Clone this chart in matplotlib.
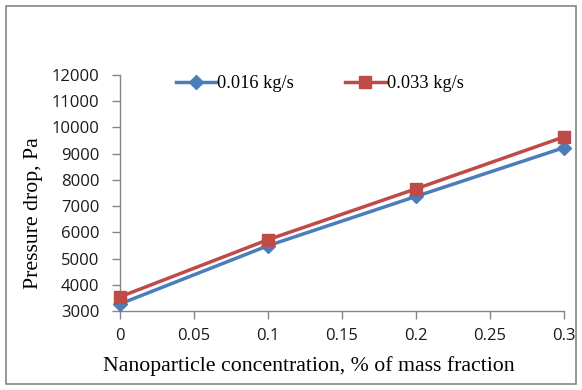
import matplotlib
matplotlib.use('Agg')
import matplotlib.pyplot as plt
from matplotlib.patches import Rectangle

# data
conc = [0, 0.1, 0.2, 0.3]
dp_016 = [3270, 5490, 7370, 9230]
dp_033 = [3540, 5720, 7660, 9640]

blue = '#4a7ebb'
red = '#be4b48'
grey = '#868686'

fig = plt.figure(figsize=(5.82, 3.9), dpi=100)
fig.patches.append(Rectangle((6 / 582, 6 / 390), 570 / 582, 378 / 390,
                             transform=fig.transFigure, fill=False,
                             edgecolor=grey, linewidth=1.2))

ax = fig.add_axes([120 / 582, (390 - 311) / 390, 444 / 582, 236 / 390])
ax.plot(conc, dp_016, color=blue, linewidth=2.5, marker='D', markersize=7,
        label='0.016 kg/s', clip_on=False, zorder=3)
ax.plot(conc, dp_033, color=red, linewidth=2.5, marker='s', markersize=9,
        label='0.033 kg/s', clip_on=False, zorder=4)

ax.set_xlim(0, 0.3)
ax.set_ylim(3000, 12000)
ax.set_xticks([0, 0.05, 0.1, 0.15, 0.2, 0.25, 0.3])
ax.set_xticklabels(['0', '0.05', '0.1', '0.15', '0.2', '0.25', '0.3'])
ax.set_yticks(range(3000, 12001, 1000))

for s in ['top', 'right']:
    ax.spines[s].set_visible(False)
for s in ['left', 'bottom']:
    ax.spines[s].set_color(grey)
    ax.spines[s].set_linewidth(1)
ax.tick_params(axis='both', colors=grey, length=6, width=1, labelcolor='#1a1a1a',
               labelsize=12)
for lab in ax.get_xticklabels() + ax.get_yticklabels():
    lab.set_family('Open Sans')
ax.tick_params(axis='y', pad=9)
ax.tick_params(axis='x', pad=6)

ax.set_ylabel('Pressure drop, Pa', family='Liberation Serif', fontsize=15.7)
ax.set_xlabel('Nanoparticle concentration, % of mass fraction',
              family='Liberation Serif', fontsize=15.7)
ax.yaxis.set_label_coords(-0.173, 0.413)
ax.xaxis.set_label_coords(0.425, -0.19)

leg = ax.legend(loc='upper left', bbox_to_anchor=(0.126, 1.0), ncol=2,
                frameon=False, prop={'family': 'Liberation Serif', 'size': 13.2},
                handlelength=2.2, handletextpad=0.05, columnspacing=2.8,
                borderpad=0, borderaxespad=0)

fig.savefig('out.png', dpi=100)
